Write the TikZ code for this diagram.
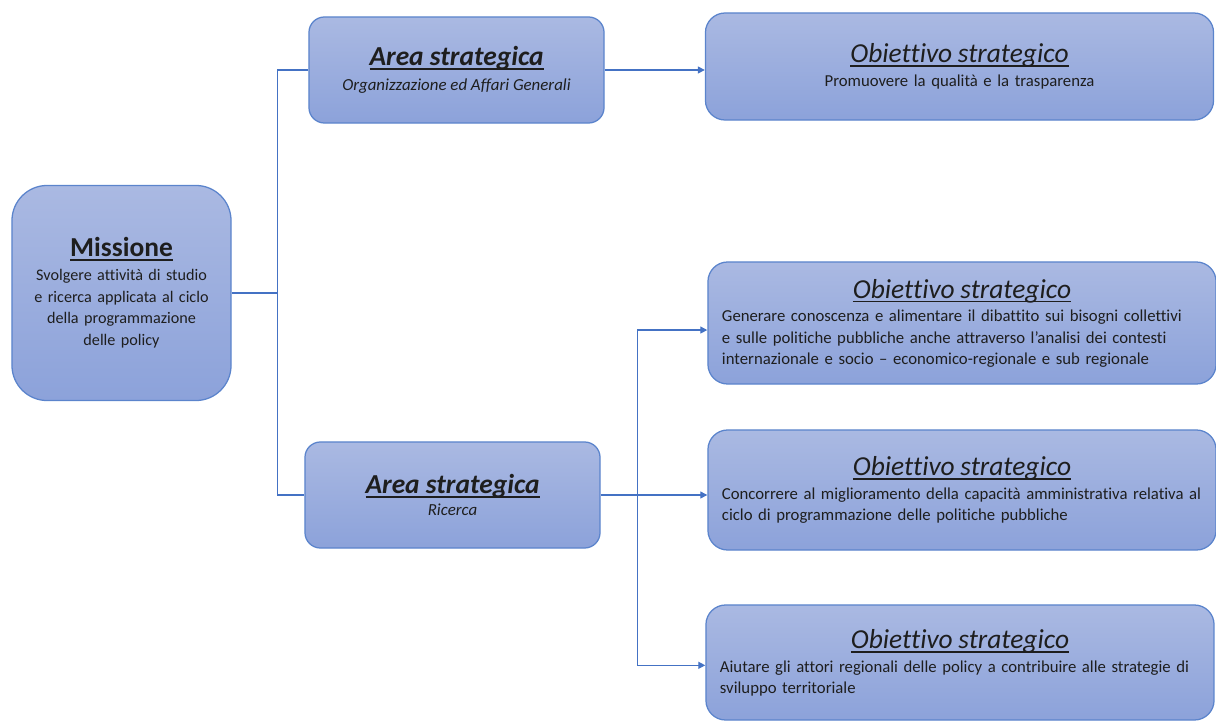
\documentclass[tikz,border=0pt]{standalone}
\usepackage{fontspec}
\setmainfont{Carlito}[Ligatures=NoCommon]
\usetikzlibrary{calc,positioning,arrows.meta}
\definecolor{boxtop}{HTML}{AAB9E2}
\definecolor{boxbot}{HTML}{8CA2DA}
\definecolor{boxline}{HTML}{5B84CC}
\definecolor{linkblue}{HTML}{4472C4}
\definecolor{inkgray}{HTML}{1E1E1E}
\tikzset{
	box/.style={draw=boxline, line width=0.9pt, top color=boxtop, bottom color=boxbot, text=inkgray},
	missionbox/.style={box, rounded corners=25pt, minimum width=5.475cm, minimum height=5.375cm, text width=5.2cm, align=center, inner sep=0pt, font=\fontsize{11.5}{15.6}\selectfont},
	areabox/.style={box, rounded corners=11pt, minimum width=7.375cm, minimum height=2.65cm, align=center, font=\fontsize{12}{15}\selectfont\itshape},
	objbox/.style={box, rounded corners=14pt, text width=12cm, inner xsep=0.35cm, align=left, font=\fontsize{11.9}{15}\selectfont},
	link/.style={draw=linkblue, line width=0.9pt},
	arrow/.style={-{Triangle[length=5pt,width=5pt]}},
}
\newcommand{\ulword}[1]{\leavevmode\setbox0\hbox{#1}\rlap{\rule[-0.16em]{\wd0}{0.06em}}\box0}
\newcommand{\boxtitle}[1]{{\centering\fontsize{19.5}{23}\selectfont\itshape\ulword{#1}\par}\vspace{2pt}}

\begin{document}
\begin{tikzpicture}[x=0.025cm, y=-0.025cm]
	\useasboundingbox (0,0) rectangle (1216,722);
	%
	\node[missionbox] (missione) at (121.5,293)
		{{\fontsize{19.5}{23}\selectfont\bfseries\ulword{Missione}}\\[1pt]
		Svolgere attività di studio\\e ricerca applicata al ciclo\\della programmazione\\delle policy};
	%
	\node[areabox] (area1) at (456.5,70)
		{{\fontsize{19.5}{23}\selectfont\bfseries\ulword{Area strategica}}\\[3pt]
		Organizzazione ed Affari Generali};
	\node[areabox] (area2) at (452.5,495)
		{{\fontsize{19.5}{23}\selectfont\bfseries\ulword{Area strategica}}\\[1pt]
		Ricerca};
	%
	\node[objbox, minimum height=2.675cm] (obj1) at (959.5,66.5)
		{\boxtitle{Obiettivo strategico}
		{\centering Promuovere la qualità e la trasparenza\par}};
	\node[objbox, minimum height=3.05cm] (obj2) at (962,323)
		{\boxtitle{Obiettivo strategico}
		Generare conoscenza e alimentare il dibattito sui bisogni collettivi\\
		e sulle politiche pubbliche anche attraverso l’analisi dei contesti\\
		internazionale e socio – economico-regionale e sub regionale};
	\node[objbox, minimum height=3cm] (obj3) at (962,490)
		{\boxtitle{Obiettivo strategico}
		Concorrere al miglioramento della capacità amministrativa relativa al\\
		ciclo di programmazione delle politiche pubbliche};
	\node[objbox, minimum height=2.875cm] (obj4) at (960,662.5)
		{\boxtitle{Obiettivo strategico}
		Aiutare gli attori regionali delle policy a contribuire alle strategie di\\
		sviluppo territoriale};
	%
	\coordinate (fork1) at ($(missione.east)+(46,0)$);
	\coordinate (fork2) at ($(area2.east)+(37,0)$);
	%
	\draw[link] (missione.east) -- (fork1);
	\draw[link] (area1.west) -| (fork1) |- (area2.west);
	\draw[link, arrow] (area1.east) -- (area1.east -| obj1.west);
	\draw[link, arrow] (area2.east) -- (area2.east -| obj3.west);
	\draw[link, arrow] (fork2) |- ([yshift=-5pt]obj2.west);
	\draw[link, arrow] (fork2) |- ([yshift=-2pt]obj4.west);
\end{tikzpicture}
\end{document}
